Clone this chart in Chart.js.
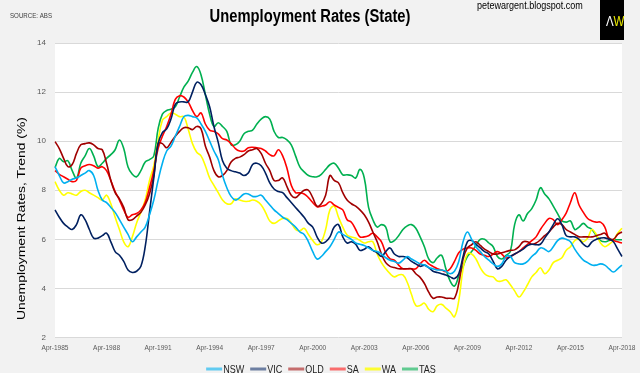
<!DOCTYPE html>
<html><head><meta charset="utf-8">
<script src="https://cdn.jsdelivr.net/npm/chart.js@4/dist/chart.umd.min.js"></script>
<style>html,body{margin:0;padding:0;background:#f2f2f2;}canvas{display:block;}</style>
</head><body>
<canvas id="c" width="640" height="373"></canvas>
<script>
// Quarterly observations, Apr-1985 .. Apr-2018
const quarterMonths = ['Apr','Jul','Oct','Jan'];
const firstYear = 1985;
const nQuarters = 133;
const xTickLabels = ['Apr-1985','Apr-1988','Apr-1991','Apr-1994','Apr-1997','Apr-2000','Apr-2003','Apr-2006','Apr-2009','Apr-2012','Apr-2015','Apr-2018'];
const yTicks = [2,4,6,8,10,12,14];
const seriesNames = ['NSW','VIC','QLD','SA','WA','TAS'];

const nsw = [8.96,8.6,8.3,8.35,8.45,8.5,8.6,8.7,8.8,8.6,
8.0,7.6,7.5,7.3,7.1,6.8,6.5,6.2,5.9,6.1,
6.3,6.5,7.0,7.6,8.4,9.1,9.6,9.8,10.2,10.6,
11.0,11.05,11.0,10.95,10.7,10.4,10.0,9.6,9.25,8.6,
8.1,7.75,7.6,7.7,7.85,7.85,7.75,7.75,7.8,7.6,
7.4,7.2,7.05,6.9,6.8,6.65,6.5,6.3,6.2,5.9,
5.5,5.2,5.3,5.5,5.7,6.0,6.3,6.2,6.1,6.0,
5.85,5.8,5.75,5.65,5.55,5.5,5.4,5.25,5.15,5.1,
5.03,5.15,5.3,5.2,5.1,5.0,4.95,4.85,4.8,4.75,
4.75,4.7,4.6,4.7,5.1,5.9,6.3,6.0,5.7,5.5,
5.3,5.15,5.0,4.9,5.0,5.3,5.3,5.05,5.0,5.0,
5.1,5.3,5.45,5.65,5.6,5.5,5.7,5.95,6.05,6.0,
5.9,5.6,5.35,5.15,5.05,4.95,4.95,5.0,4.95,4.8,
4.67,4.8,4.95];
const vic = [7.2,6.9,6.65,6.5,6.4,6.6,7.0,6.8,6.4,6.05,
6.05,6.15,6.25,5.9,5.5,5.35,5.1,4.75,4.65,4.7,
4.9,5.7,7.1,8.5,9.9,10.35,10.5,10.9,11.5,11.6,
11.6,11.6,12.0,12.4,12.3,11.9,11.4,10.6,9.95,9.2,
8.9,8.8,8.75,8.7,8.6,8.7,9.05,9.1,9.0,8.7,
8.3,8.05,7.95,7.9,7.7,7.5,7.3,7.1,6.9,6.65,
6.5,6.1,5.85,5.9,6.1,6.5,6.6,6.1,5.85,5.9,
5.8,5.55,5.6,5.7,5.55,5.45,5.3,5.5,5.65,5.4,
5.3,5.3,5.25,5.1,5.0,4.9,4.95,4.85,4.7,4.65,
4.6,4.55,4.47,4.4,4.6,5.3,5.9,5.95,5.8,5.65,
5.5,5.4,5.1,4.8,4.9,5.15,5.3,5.4,5.5,5.6,
5.75,5.8,5.78,5.8,6.05,6.3,6.6,6.84,6.6,6.15,
6.1,6.1,6.0,5.8,5.7,5.9,6.0,6.05,6.06,6.0,
5.9,5.6,5.3];
const qld = [9.98,9.7,9.3,8.96,9.05,9.5,9.85,9.9,9.93,9.85,
9.7,9.65,9.1,8.4,7.9,7.65,7.3,6.8,6.8,6.95,
7.1,7.4,7.85,8.6,9.9,9.9,9.73,9.95,10.2,10.4,
10.55,10.55,10.47,10.6,10.5,9.8,9.35,8.8,8.55,8.6,
8.8,9.15,9.3,9.35,9.45,9.6,9.65,9.7,9.5,9.1,
8.8,8.4,8.4,8.5,8.15,7.8,7.7,7.85,8.0,8.0,
7.7,7.35,7.45,7.8,8.6,8.4,8.3,7.9,7.6,7.45,
7.35,7.2,7.0,6.7,6.3,5.9,5.4,5.05,4.9,4.85,
4.8,4.8,4.8,4.8,4.6,4.45,4.2,3.85,3.6,3.65,
3.65,3.6,3.6,3.6,4.2,5.2,5.65,5.78,5.9,5.75,
5.6,5.5,5.4,5.4,5.45,5.5,5.55,5.57,5.7,5.9,
5.9,5.8,5.85,5.98,6.15,6.3,6.5,6.65,6.6,6.4,
6.3,6.2,6.1,6.1,6.1,6.1,6.15,6.2,6.25,6.05,
6.0,6.2,6.3];
const sa = [8.8,8.65,8.55,8.45,8.35,8.4,8.9,9.0,9.05,9.0,
8.9,8.96,8.8,8.4,7.95,7.6,7.2,6.9,7.0,7.05,
7.2,7.5,8.1,8.8,9.7,10.2,10.6,11.1,11.7,11.85,
11.8,11.6,11.25,11.0,11.15,10.7,10.45,10.4,10.3,10.1,
10.05,9.9,9.7,9.6,9.6,9.73,9.75,9.73,9.7,9.6,
9.45,9.4,9.65,9.4,8.9,8.2,7.9,7.9,7.85,7.7,
7.5,7.33,7.35,7.4,7.53,7.4,7.3,7.2,6.8,6.7,
6.4,6.1,6.1,6.15,6.25,6.1,5.9,5.45,5.2,5.15,
4.95,4.8,4.8,4.8,4.8,5.0,5.15,5.0,4.9,4.8,
4.75,4.68,4.8,5.1,5.45,5.6,5.65,5.65,5.55,5.4,
5.35,5.3,5.4,5.5,5.4,5.24,5.3,5.4,5.5,5.65,
5.8,5.95,6.1,6.4,6.65,6.85,6.8,6.6,6.8,7.07,
7.5,7.9,7.4,7.1,6.85,6.75,6.7,6.7,6.5,6.0,
5.95,5.9,5.85];
const wa = [8.35,8.0,7.8,7.9,7.85,7.8,7.95,8.0,7.9,7.8,
7.7,7.6,7.8,7.45,6.9,6.4,5.9,5.7,6.1,6.67,
7.1,7.6,8.4,9.0,10.0,10.85,11.0,11.15,11.1,11.0,
11.0,10.5,9.9,9.55,9.4,9.0,8.5,8.2,7.9,7.6,
7.45,7.45,7.65,7.6,7.55,7.55,7.6,7.55,7.4,7.1,
6.75,6.65,6.75,6.85,6.85,6.67,6.4,6.35,6.45,6.2,
5.95,5.78,5.9,6.4,7.2,7.35,6.9,6.5,6.18,6.1,
6.05,5.95,5.85,5.9,5.9,5.4,5.05,4.8,4.6,4.47,
4.55,4.55,4.25,3.75,3.3,3.3,3.4,3.15,3.05,3.3,
3.35,3.2,3.05,2.85,3.5,4.8,5.4,5.4,5.2,4.85,
4.6,4.5,4.47,4.3,4.3,4.35,4.15,3.9,3.65,3.85,
4.15,4.47,4.65,4.84,4.6,4.75,5.05,5.15,5.25,5.55,
5.7,5.95,6.0,5.9,6.05,6.4,6.2,5.85,5.7,5.8,
5.95,6.25,6.45];
const tas = [8.92,9.3,9.16,9.2,8.8,8.5,9.1,9.4,9.7,9.4,
8.96,9.1,9.3,9.45,9.65,10.05,9.7,8.95,8.65,8.55,
8.8,9.15,9.25,9.4,10.5,11.1,11.25,11.3,11.4,11.8,
12.2,12.45,12.8,13.04,12.7,11.9,11.1,10.6,10.75,10.6,
10.4,9.85,9.85,10.0,10.3,10.4,10.45,10.7,10.9,11.0,
10.9,10.4,10.15,10.15,10.05,9.85,9.4,8.95,8.75,8.6,
8.55,8.55,8.65,8.85,9.04,9.1,8.9,8.63,8.63,8.6,
8.5,8.85,8.5,7.3,6.8,6.5,6.6,6.5,5.9,5.95,
6.15,6.4,6.55,6.6,6.45,6.1,5.7,5.2,5.05,5.25,
5.35,4.8,4.3,4.1,4.5,4.9,5.3,5.5,5.75,6.0,
6.0,5.85,5.7,5.3,5.2,5.35,5.5,6.6,7.0,6.75,
7.05,7.25,7.6,8.1,7.85,7.65,7.35,7.05,6.75,6.7,
6.75,6.4,6.5,6.65,6.5,6.4,6.15,5.95,5.9,5.95,
5.98,5.98,5.98];

const lineColors = ['#00B0F0','#002060','#A00000','#FF0000','#FFFF00','#00B050'];
const swatchColors = ['rgba(0,176,240,0.6)','rgba(0,32,96,0.55)','rgba(160,0,0,0.55)','rgba(255,0,0,0.55)','rgba(255,255,0,0.8)','rgba(0,176,80,0.6)'];

const categories = [];
for (let i = 0; i < nQuarters; i++) {
  categories.push(quarterMonths[i % 4] + '-' + (firstYear + Math.floor((i + 1) / 4)));
}

const FONT = "'Liberation Sans',Arial,sans-serif";
const SX = 0.82; // horizontal condensing of text
const seriesData = [nsw, vic, qld, sa, wa, tas];

function narrowText(ctx, text, x, y, size, weight, color, align, sx) {
  sx = sx || SX;
  ctx.save();
  ctx.font = (weight ? weight + ' ' : '') + size + 'px ' + FONT;
  ctx.fillStyle = color;
  ctx.textAlign = 'left';
  const w = ctx.measureText(text).width * sx;
  const x0 = align === 'center' ? x - w / 2 : (align === 'right' ? x - w : x);
  ctx.translate(x0, y);
  ctx.scale(sx, 1);
  ctx.fillText(text, 0, 0);
  ctx.restore();
  return w;
}

const decor = {
  id: 'decor',
  beforeDraw(chart) {
    const ctx = chart.ctx, a = chart.chartArea;
    ctx.save();
    ctx.fillStyle = '#f2f2f2';
    ctx.fillRect(0, 0, chart.width, chart.height);
    ctx.fillStyle = '#ffffff';
    ctx.fillRect(a.left, a.top, a.right - a.left, a.bottom - a.top);
    ctx.restore();
  },
  afterDraw(chart) {
    const ctx = chart.ctx, a = chart.chartArea;
    ctx.save();
    ctx.textBaseline = 'alphabetic';
    narrowText(ctx, 'Unemployment Rates (State)', 310, 22, 18, 'bold', '#000', 'center');
    narrowText(ctx, 'SOURCE: ABS', 10, 17.5, 7.5, '', '#404040', 'left');
    narrowText(ctx, 'petewargent.blogspot.com', 477, 9, 11, '', '#000', 'left');
    // logo
    ctx.fillStyle = '#000';
    ctx.fillRect(600, 0, 24, 40);
    narrowText(ctx, '\u039B', 606, 26, 14, '', '#ffffff', 'left');
    narrowText(ctx, 'W', 613.5, 26, 14, '', '#e8e800', 'left');
    // x tick labels, placed by the category scale
    const xs = chart.scales.x;
    categories.forEach((c, i) => {
      if (xTickLabels.includes(c)) {
        narrowText(ctx, c, xs.getPixelForValue(i), 350, 8, '', '#595959', 'center');
      }
    });
    // y title
    ctx.save();
    ctx.translate(25, 218.5);
    ctx.rotate(-Math.PI / 2);
    ctx.font = "10px " + FONT;
    const t = 'Unemployment Rates, Trend (%)';
    const w = ctx.measureText(t).width;
    ctx.scale(203 / w, 1);
    ctx.fillStyle = '#000';
    ctx.textAlign = 'center';
    ctx.fillText(t, 0, 0);
    ctx.restore();
    // legend
    ctx.font = "11px " + FONT;
    const sw = 16, gap = 1, spacing = 6;
    const widths = chart.data.datasets.map(d => sw + gap + ctx.measureText(d.label).width * SX);
    const total = widths.reduce((s, v) => s + v, 0) + spacing * (widths.length - 1);
    let x = 321 - total / 2;
    const y = 369;
    chart.data.datasets.forEach((d, i) => {
      ctx.fillStyle = swatchColors[i];
      ctx.fillRect(x, y - 1.5, sw, 3);
      narrowText(ctx, d.label, x + sw + gap, y + 4, 11, '', '#222', 'left');
      x += widths[i] + spacing;
    });
    ctx.restore();
  }
};

new Chart(document.getElementById('c'), {
  type: 'line',
  data: {
    labels: categories,
    datasets: seriesNames.map((n, i) => ({
      label: n,
      data: seriesData[i],
      borderColor: lineColors[i],
      backgroundColor: lineColors[i],
      borderWidth: 1.6,
      pointRadius: 0,
      tension: 0.4,
      fill: false
    }))
  },
  options: {
    responsive: false,
    animation: false,
    devicePixelRatio: 1,
    layout: { padding: { top: 43, right: 18, bottom: 20.5, left: 0 } },
    plugins: { legend: { display: false }, tooltip: { enabled: false }, title: { display: false } },
    scales: {
      x: {
        type: 'category',
        grid: { display: false },
        border: { display: false },
        ticks: { display: false },
        afterFit(s) { s.height = 15; }
      },
      y: {
        min: yTicks[0], max: yTicks[yTicks.length - 1],
        grid: { color: '#d9d9d9', drawTicks: false, lineWidth: 1 },
        border: { display: false },
        afterBuildTicks(s) { s.ticks = yTicks.map(v => ({ value: v })); },
        ticks: { padding: 9, color: '#595959', font: { size: 8, family: FONT } },
        afterFit(s) { s.width = 55; }
      }
    }
  },
  plugins: [decor]
});
</script>
</body></html>
